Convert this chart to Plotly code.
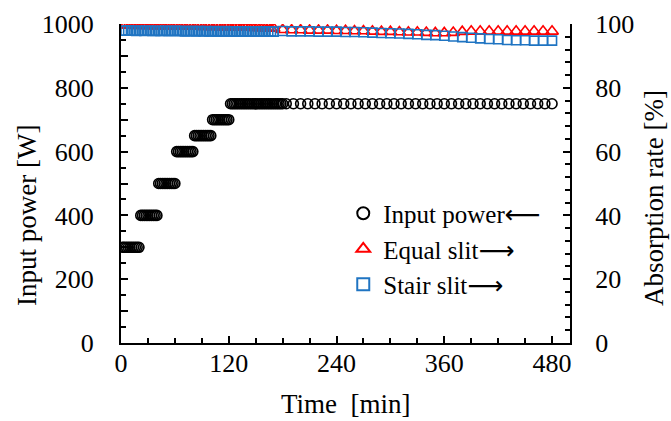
import plotly.graph_objects as go

# ---------------- data ----------------
power_time = [2, 4, 6, 8, 10, 12, 14, 16, 18, 20,
              22, 24, 26, 28, 30, 32, 34, 36, 38, 40,
              42, 44, 46, 48, 50, 52, 54, 56, 58, 60,
              62, 64, 66, 68, 70, 72, 74, 76, 78, 80,
              82, 84, 86, 88, 90, 92, 94, 96, 98, 100,
              102, 104, 106, 108, 110, 112, 114, 116, 118, 120,
              122, 124, 126, 128, 130, 132, 134, 136, 138, 140,
              142, 144, 146, 148, 150, 152, 154, 156, 158, 160,
              162, 164, 166, 168, 170, 172, 174, 176, 178, 180,
              184, 192, 200, 208, 216, 224, 232, 240, 248, 256,
              264, 272, 280, 288, 296, 304, 312, 320, 328, 336,
              344, 352, 360, 368, 376, 384, 392, 400, 408, 416,
              424, 432, 440, 448, 456, 464, 472, 480]
power_w = [300, 300, 300, 300, 300, 300, 300, 300, 300, 300,
           400, 400, 400, 400, 400, 400, 400, 400, 400, 400,
           500, 500, 500, 500, 500, 500, 500, 500, 500, 500,
           600, 600, 600, 600, 600, 600, 600, 600, 600, 600,
           650, 650, 650, 650, 650, 650, 650, 650, 650, 650,
           700, 700, 700, 700, 700, 700, 700, 700, 700, 700,
           750, 750, 750, 750, 750, 750, 750, 750, 750, 750,
           750, 750, 750, 750, 750, 750, 750, 750, 750, 750,
           750, 750, 750, 750, 750, 750, 750, 750, 750, 750,
           750, 750, 750, 750, 750, 750, 750, 750, 750, 750,
           750, 750, 750, 750, 750, 750, 750, 750, 750, 750,
           750, 750, 750, 750, 750, 750, 750, 750, 750, 750,
           750, 750, 750, 750, 750, 750, 750, 750]

abs_time = [2, 5, 8, 11, 14, 17, 20, 23, 26, 29,
            32, 35, 38, 41, 44, 47, 50, 53, 56, 59,
            62, 65, 68, 71, 74, 77, 80, 83, 86, 89,
            92, 95, 98, 101, 104, 107, 110, 113, 116, 119,
            122, 125, 128, 131, 134, 137, 140, 143, 146, 149,
            152, 155, 158, 161, 164, 167, 170,
            180, 190, 200, 210, 220, 230, 240, 250, 260, 270,
            280, 290, 300, 310, 320, 330, 340, 350, 360, 370,
            380, 390, 400, 410, 420, 430, 440, 450, 460, 470, 480]
equal_slit = [99.7, 99.6, 99.6, 99.7, 99.6, 99.5, 99.5, 99.6, 99.5, 99.5,
              99.4, 99.5, 99.4, 99.4, 99.5, 99.4, 99.3, 99.4, 99.3, 99.3,
              99.4, 99.3, 99.3, 99.2, 99.3, 99.3, 99.2, 99.2, 99.3, 99.2,
              99.1, 99.2, 99.2, 99.1, 99.1, 99.2, 99.1, 99.0, 99.1, 99.1,
              99.0, 99.0, 99.1, 99.0, 98.9, 99.0, 99.0, 98.9, 98.9, 98.8,
              98.9, 98.8, 98.8, 98.7, 98.7, 98.6, 98.6,
              98.2, 98.1, 98.1, 98.0, 98.0, 98.0, 97.9, 97.9, 97.8, 97.8,
              97.7, 97.6, 97.6, 97.5, 97.4, 97.4, 97.3, 97.2, 97.2, 97.3,
              97.6, 97.7, 97.7, 97.7, 97.7, 97.7, 97.7, 97.7, 97.7, 97.7, 97.7]
stair_slit = [97.9, 97.9, 98.0, 97.9, 97.9, 97.8, 97.9, 97.9, 97.8, 97.9,
              97.9, 97.8, 97.8, 97.9, 97.8, 97.8, 97.9, 97.8, 97.8, 97.8,
              97.9, 97.8, 97.8, 97.7, 97.8, 97.8, 97.8, 97.7, 97.8, 97.8,
              97.7, 97.8, 97.7, 97.7, 97.8, 97.7, 97.7, 97.7, 97.8, 97.7,
              97.7, 97.7, 97.6, 97.7, 97.7, 97.7, 97.6, 97.7, 97.7, 97.6,
              97.7, 97.6, 97.6, 97.7, 97.6, 97.6, 97.6,
              97.8, 97.7, 97.7, 97.7, 97.6, 97.6, 97.6, 97.5, 97.5, 97.4,
              97.3, 97.2, 97.1, 97.0, 96.9, 96.8, 96.6, 96.5, 96.3, 96.1,
              95.9, 95.7, 95.5, 95.3, 95.2, 95.0, 94.9, 94.9, 94.8, 94.8, 94.8]

x_ticks = [0, 120, 240, 360, 480]
y1_ticks = [0, 100, 200, 300, 400, 500, 600, 700, 800, 900, 1000]
y1_text = ["0", "", "200", "", "400", "", "600", "", "800", "", "1000"]
y2_ticks = [0, 20, 40, 60, 80, 100]

# ---------------- figure ----------------
FONT = "Liberation Serif"
ARROW = '<span style="font-family:DejaVu Sans">{}</span>'
W, H = 671, 421
L, R, T, B = 121, 101, 24, 78

fig = go.Figure()
fig.add_trace(go.Scatter(
    x=power_time, y=power_w, mode="markers", name="Input power" + ARROW.format("⟵"),
    marker=dict(symbol="circle-open", size=10, color="black", line=dict(width=1.6, color="black")),
    yaxis="y"))
fig.add_trace(go.Scatter(
    x=abs_time, y=equal_slit, mode="markers", name="Equal slit" + ARROW.format("⟶"),
    marker=dict(symbol="triangle-up-open", size=11, color="#FF0000", line=dict(width=1.6, color="#FF0000")),
    yaxis="y2"))
fig.add_trace(go.Scatter(
    x=abs_time, y=stair_slit, mode="markers", name="Stair slit" + ARROW.format("⟶"),
    marker=dict(symbol="square-open", size=9, color="#1F74C2", line=dict(width=1.6, color="#1F74C2")),
    yaxis="y2"))

axis_common = dict(showgrid=False, zeroline=False, showline=True, linecolor="black", linewidth=2,
                   ticks="inside", tickcolor="black", tickwidth=1.5,
                   tickfont=dict(family=FONT, size=26, color="black"))

fig.update_layout(
    width=W, height=H,
    margin=dict(l=L, r=R, t=T, b=B, autoexpand=False),
    paper_bgcolor="white", plot_bgcolor="white",
    font=dict(family=FONT, size=26, color="black"),
    xaxis=dict(range=[0, 500], tickvals=x_ticks, ticklen=7,
               minor=dict(dtick=30, tick0=0, ticks="inside", ticklen=5, tickcolor="black", tickwidth=1.5),
               ticklabelstandoff=-4, **axis_common),
    yaxis=dict(range=[0, 1000], tickvals=y1_ticks, ticktext=y1_text, ticklen=7,
               minor=dict(dtick=50, tick0=0, ticks="inside", ticklen=5, tickcolor="black", tickwidth=1.5),
               ticklabelstandoff=20, **axis_common),
    yaxis2=dict(range=[0, 100], overlaying="y", side="right", tickvals=y2_ticks, ticklen=7,
                minor=dict(dtick=4, tick0=0, ticks="inside", ticklen=5, tickcolor="black", tickwidth=1.5),
                ticklabelstandoff=18, **axis_common),
    showlegend=True,
    legend=dict(x=0.495, y=0.478, xanchor="left", yanchor="top",
                font=dict(family=FONT, size=25, color="black"),
                bgcolor="rgba(0,0,0,0)", borderwidth=0, tracegroupgap=0,
                itemsizing="constant", itemwidth=30),
)

fig.add_annotation(text="Time  [min]", xref="paper", yref="paper",
                   x=0.5, y=-(404 - (H - B)) / (H - T - B), showarrow=False,
                   font=dict(family=FONT, size=27, color="black"), xanchor="center", yanchor="middle")
fig.add_annotation(text="Input power [W]", xref="paper", yref="paper",
                   x=-(L - 27) / (W - L - R), y=(H - B - 216) / (H - T - B), showarrow=False, textangle=-90,
                   font=dict(family=FONT, size=27, color="black"), xanchor="center", yanchor="middle")
fig.add_annotation(text="Absorption rate [%]", xref="paper", yref="paper",
                   x=1 + (654 - (W - R)) / (W - L - R), y=(H - B - 198) / (H - T - B), showarrow=False, textangle=-90,
                   font=dict(family=FONT, size=27, color="black"), xanchor="center", yanchor="middle")

fig.write_html("out.html", config={"displayModeBar": False},
               post_script="document.body.style.margin='0';document.body.style.padding='0';")
